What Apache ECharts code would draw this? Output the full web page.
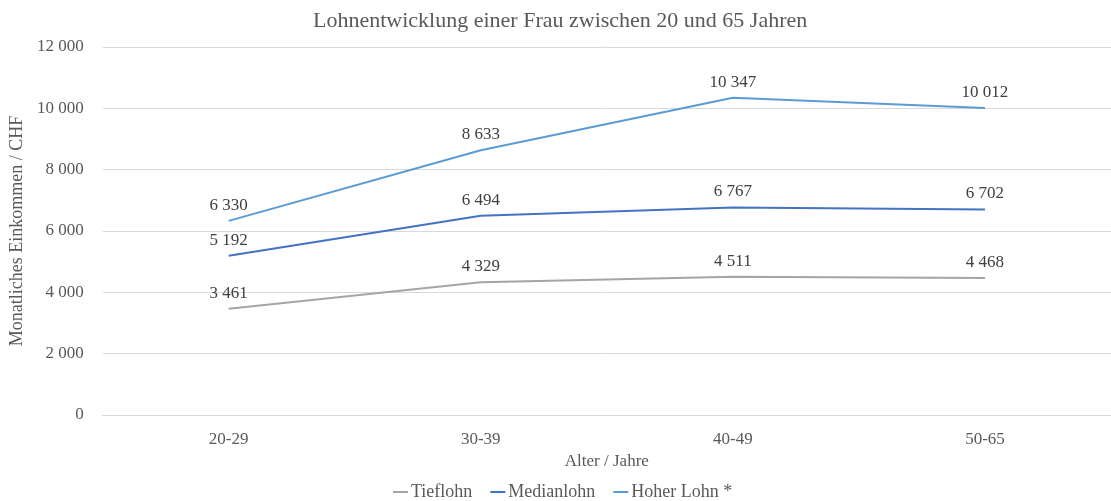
<!DOCTYPE html>
<html>
<head>
<meta charset="utf-8">
<script src="https://cdn.jsdelivr.net/npm/echarts@6/dist/echarts.min.js"></script>
<style>
  html, body { margin: 0; padding: 0; background: #fff; }
  #chart { width: 1111px; height: 501px; }
</style>
</head>
<body>
<div id="chart"></div>
<script>
  const categories = ['20-29', '30-39', '40-49', '50-65']
  const tieflohn = [3461, 4329, 4511, 4468]
  const medianlohn = [5192, 6494, 6767, 6702]
  const hoherLohn = [6330, 8633, 10347, 10012]

  // Tausendertrennzeichen als Leerzeichen
  const fmt = v => String(v).replace(/\B(?=(\d{3})+(?!\d))/g, ' ')
  const font = 'Liberation Serif, Times New Roman, serif'

  const makeSeries = (name, data, color) => ({
    name: name,
    type: 'line',
    data: data,
    symbol: 'circle',
    symbolSize: 0.1,
    lineStyle: { color: color, width: 2 },
    itemStyle: { color: color },
    label: {
      show: true,
      position: 'top',
      distance: 7,
      color: '#404040',
      fontFamily: font,
      fontSize: 17,
      formatter: p => fmt(p.value)
    }
  })

  const myChart = echarts.init(document.getElementById('chart'))
  myChart.setOption({
    animation: false,
    textStyle: { fontFamily: font },
    title: {
      text: 'Lohnentwicklung einer Frau zwischen 20 und 65 Jahren',
      left: 308,
      top: 5,
      textStyle: { color: '#595959', fontFamily: font, fontSize: 22, fontWeight: 'normal' }
    },
    legend: {
      top: 478,
      left: 388,
      itemWidth: 15,
      itemHeight: 2,
      itemGap: 18,
      icon: 'rect',
      textStyle: { color: '#595959', fontFamily: font, fontSize: 18, padding: [0, 0, 0, -2] },
      data: ['Tieflohn', 'Medianlohn', 'Hoher Lohn *']
    },
    grid: { left: 99, right: 0, top: 47, bottom: 86 },
    xAxis: {
      type: 'category',
      data: categories,
      name: 'Alter / Jahre',
      nameLocation: 'middle',
      nameGap: 37,
      nameTextStyle: { color: '#595959', fontFamily: font, fontSize: 17 },
      axisLine: { lineStyle: { color: '#d9d9d9' } },
      axisTick: { show: false },
      axisLabel: { color: '#595959', fontFamily: font, fontSize: 17, margin: 16 }
    },
    yAxis: {
      type: 'value',
      min: 0,
      max: 12000,
      interval: 2000,
      name: 'Monatliches Einkommen / CHF',
      nameLocation: 'middle',
      nameGap: 69,
      nameTextStyle: { color: '#595959', fontFamily: font, fontSize: 18 },
      axisLine: { show: false },
      axisTick: { show: false },
      splitLine: { lineStyle: { color: '#d9d9d9' } },
      axisLabel: { color: '#595959', fontFamily: font, fontSize: 17, margin: 19, formatter: v => fmt(v) }
    },
    series: [
      makeSeries('Tieflohn', tieflohn, '#a5a5a5'),
      makeSeries('Medianlohn', medianlohn, '#4472c4'),
      makeSeries('Hoher Lohn *', hoherLohn, '#5b9bd5')
    ]
  })
</script>
</body>
</html>
